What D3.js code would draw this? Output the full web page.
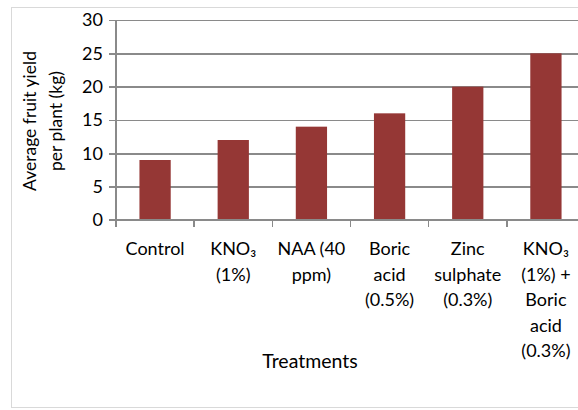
<!DOCTYPE html>
<html>
<head>
<meta charset="utf-8">
<script src="https://cdn.jsdelivr.net/npm/d3@7/dist/d3.min.js"></script>
<style>
  html, body { margin: 0; padding: 0; background: #fff; }
  svg { display: block; }
  text { font-family: Lato, "Open Sans", sans-serif; fill: #000; }
</style>
</head>
<body>
<svg id="chart" width="578" height="410"></svg>
<script>
// Treatments and average fruit yield per plant (kg)
const categories = ["Control", "KNO₃ (1%)", "NAA (40 ppm)", "Boric acid (0.5%)", "Zinc sulphate (0.3%)", "KNO₃ (1%) + Boric acid (0.3%)"];
const categoryLines = [
  ["Control"],
  ["KNO₃", "(1%)"],
  ["NAA (40", "ppm)"],
  ["Boric", "acid", "(0.5%)"],
  ["Zinc", "sulphate", "(0.3%)"],
  ["KNO₃", "(1%) +", "Boric", "acid", "(0.3%)"]
];
const yieldKg = [9, 12, 14, 16, 20, 25];
const yTicks = [0, 5, 10, 15, 20, 25, 30];
const yTitleLines = ["Average fruit yield", "per plant (kg)"];
const xTitle = "Treatments";

const svg = d3.select("#chart");
const fontSize = 18;
const lineH = 25.5;

// outer chart frame
svg.append("rect")
  .attr("x", 11.5).attr("y", 7.5)
  .attr("width", 640).attr("height", 400)
  .attr("fill", "#fff").attr("stroke", "#d9d9d9").attr("stroke-width", 1);

const plot = { left: 116, right: 585, top: 20, bottom: 220 };

const x = d3.scaleBand()
  .domain(categories)
  .range([plot.left, plot.right])
  .paddingInner(0.6)
  .paddingOuter(0.3);

const y = d3.scaleLinear().domain([0, 30]).range([plot.bottom, plot.top]);

// horizontal gridlines + y axis
const yAxis = d3.axisLeft(y).tickValues(yTicks).tickSize(-(plot.right - plot.left)).tickPadding(13);
const gy = svg.append("g").attr("transform", `translate(${plot.left},0)`).call(yAxis);
gy.select(".domain").remove();
gy.selectAll(".tick line")
  .attr("x1", -7)
  .attr("stroke", "#8a8a8a").attr("stroke-width", 1.4)
  .attr("shape-rendering", "crispEdges");
gy.selectAll(".tick text")
  .style("font-size", fontSize + "px").style("font-family", "Lato, sans-serif").attr("fill", "#000");

// vertical axis line
svg.append("line")
  .attr("x1", plot.left).attr("x2", plot.left)
  .attr("y1", plot.top).attr("y2", plot.bottom)
  .attr("stroke", "#8a8a8a").attr("stroke-width", 1.4)
  .attr("shape-rendering", "crispEdges");

// bars
svg.append("g").selectAll("rect")
  .data(yieldKg)
  .join("rect")
  .attr("x", (d, i) => x(categories[i]))
  .attr("width", x.bandwidth())
  .attr("y", d => y(d))
  .attr("height", d => y(0) - y(d))
  .attr("fill", "#953735");

// x axis line and category boundary ticks
const step = x.step();
const boundaries = categories.map(c => x(c) - step * 0.3).concat([x(categories[categories.length - 1]) + x.bandwidth() + step * 0.3]);
svg.append("line")
  .attr("x1", plot.left - 7).attr("x2", plot.right)
  .attr("y1", plot.bottom).attr("y2", plot.bottom)
  .attr("stroke", "#8a8a8a").attr("stroke-width", 1.4)
  .attr("shape-rendering", "crispEdges");
svg.append("g").selectAll("line")
  .data(boundaries)
  .join("line")
  .attr("x1", d => d).attr("x2", d => d)
  .attr("y1", plot.bottom).attr("y2", plot.bottom + 7)
  .attr("stroke", "#8a8a8a").attr("stroke-width", 1.4)
  .attr("shape-rendering", "crispEdges");

// category labels (wrapped)
const gl = svg.append("g");
categoryLines.forEach((lines, i) => {
  const cx = x(categories[i]) + x.bandwidth() / 2;
  const t = gl.append("text")
    .attr("text-anchor", "middle")
    .style("font-size", fontSize + "px");
  lines.forEach((ln, j) => {
    t.append("tspan").attr("x", cx).attr("y", 255 + j * lineH).text(ln);
  });
});

// x axis title
svg.append("text")
  .attr("x", 310).attr("y", 368)
  .attr("text-anchor", "middle")
  .style("font-size", "19.5px")
  .text(xTitle);

// y axis title
const yt = svg.append("text")
  .attr("transform", `translate(0,${(plot.top + plot.bottom) / 2 + 1}) rotate(-90)`)
  .attr("text-anchor", "middle")
  .style("font-size", "17.5px");
yTitleLines.forEach((ln, j) => {
  yt.append("tspan").attr("x", 0).attr("y", 36 + j * 26).text(ln);
});
</script>
</body>
</html>
